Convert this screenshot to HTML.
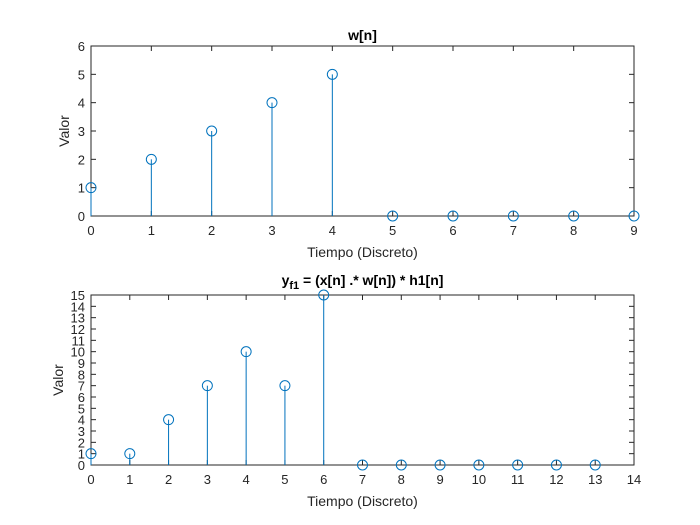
<!DOCTYPE html>
<html><head><meta charset="utf-8"><style>body{margin:0;background:#fff}svg{display:block;font-family:"Liberation Sans",Arial,sans-serif}</style></head>
<body>
<svg id="fig" width="700" height="525" xmlns="http://www.w3.org/2000/svg"></svg>
<script>
const wN = [0,1,2,3,4,5,6,7,8,9];
const wVals = [1,2,3,4,5,0,0,0,0,0];
const wYTicks = [0,1,2,3,4,5,6];
const wXTicks = [0,1,2,3,4,5,6,7,8,9];
const yN = [0,1,2,3,4,5,6,7,8,9,10,11,12,13];
const yVals = [1,1,4,7,10,7,15,0,0,0,0,0,0,0];
const yYTicks = [0,1,2,3,4,5,6,7,8,9,10,11,12,13,14,15];
const yXTicks = [0,1,2,3,4,5,6,7,8,9,10,11,12,13,14];
const NS="http://www.w3.org/2000/svg";
const svg=document.getElementById('fig');
function mk(tag,attrs,parent){const e=document.createElementNS(NS,tag);for(const k in attrs)e.setAttribute(k,attrs[k]);(parent||svg).appendChild(e);return e;}
function plot(cfg){
  const g=mk('g',{});
  
  
  const L=91,R=634,T=cfg.top,B=cfg.top+170;
  const sx=v=>L+(v-cfg.xmin)/(cfg.xmax-cfg.xmin)*(R-L);
  const sy=v=>B-(v-cfg.ymin)/(cfg.ymax-cfg.ymin)*(B-T);
  mk('rect',{x:L,y:T,width:R-L,height:B-T,fill:'#fff',stroke:'#262626','stroke-width':1},g);
  cfg.xt.forEach(t=>{const x=sx(t);
    mk('line',{x1:x,y1:B,x2:x,y2:B-5,stroke:'#262626'},g);
    mk('line',{x1:x,y1:T,x2:x,y2:T+5,stroke:'#262626'},g);
    const tx=mk('text',{x:x,y:B+19,'text-anchor':'middle','font-size':13,fill:'#262626'},g);tx.textContent=t;
    
    });
  cfg.yt.forEach(t=>{const y=sy(t);
    mk('line',{x1:L,y1:y,x2:L+5,y2:y,stroke:'#262626'},g);
    mk('line',{x1:R,y1:y,x2:R-5,y2:y,stroke:'#262626'},g);
    const tx=mk('text',{x:L-6,y:y+5,'text-anchor':'end','font-size':13,fill:'#262626'},g);tx.textContent=t;
    
    });
  cfg.n.forEach((n,i)=>{const x=sx(n),y=sy(cfg.v[i]);
    const ln=mk('line',{x1:x,y1:sy(0),x2:x,y2:y,stroke:'#0072BD','stroke-width':1},g);
    
    
    const c=mk('circle',{cx:x,cy:y,r:5,fill:'none',stroke:'#0072BD','stroke-width':1},g);
    
    });
  const xl=mk('text',{x:(L+R)/2,y:B+41,'text-anchor':'middle','font-size':14,fill:'#262626'},g);xl.textContent='Tiempo (Discreto)';
  
  
  const yl=mk('text',{x:0,y:0,'text-anchor':'middle','font-size':14,fill:'#262626',transform:`translate(${cfg.ylx},${(T+B)/2}) rotate(-90)`},g);yl.textContent='Valor';
  
  
  const ti=mk('text',{x:(L+R)/2,y:T-cfg.tOff,'text-anchor':'middle','font-size':14,'font-weight':'bold',fill:'#000'},g);
  ti.innerHTML=cfg.title;
  
  
}
plot({name:'w-plot',top:46,xmin:0,xmax:9,ymin:0,ymax:6,xt:wXTicks,yt:wYTicks,n:wN,v:wVals,ylx:69,tOff:6,title:'w[n]'});
plot({name:'yf1-plot',top:295,xmin:0,xmax:14,ymin:0,ymax:15,xt:yXTicks,yt:yYTicks,n:yN,v:yVals,ylx:63,tOff:10,title:'y<tspan font-size="11" dy="4">f1</tspan><tspan dy="-4"> = (x[n] .* w[n]) * h1[n]</tspan>'});
</script>
</body></html>
